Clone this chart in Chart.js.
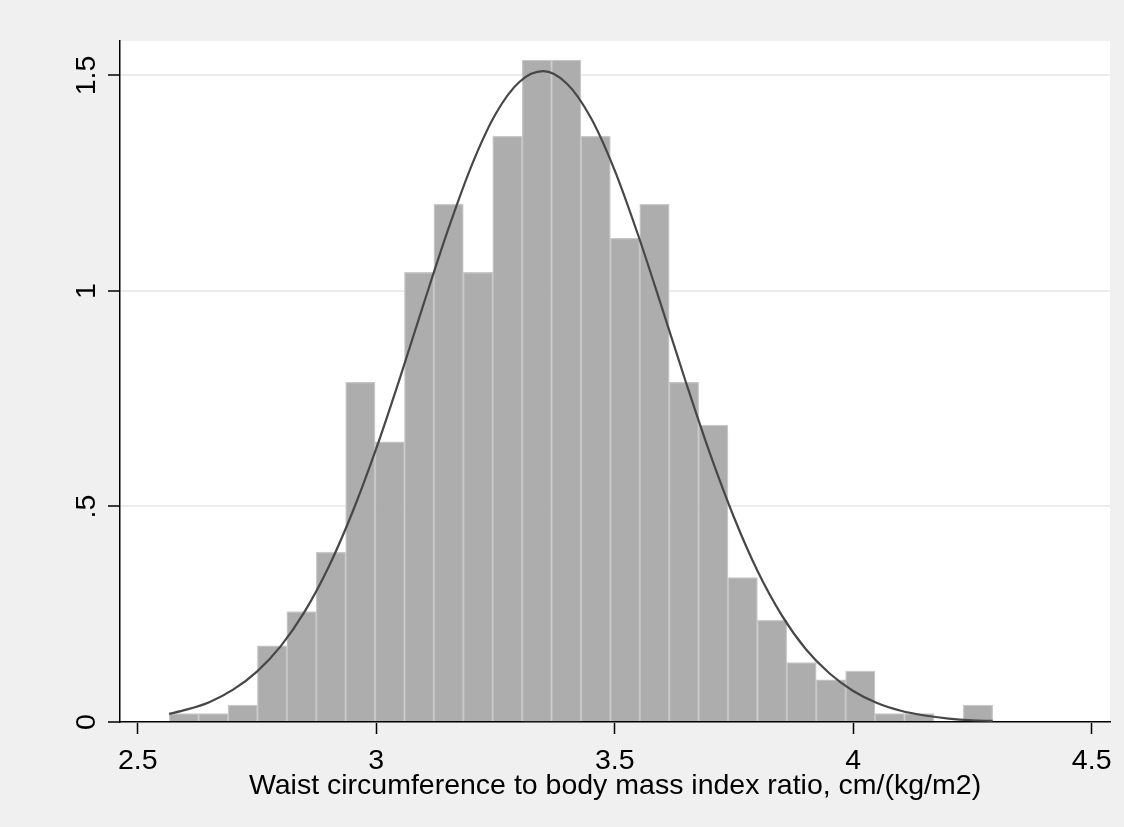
<!DOCTYPE html>
<html>
<head>
<meta charset="utf-8">
<script src="https://cdn.jsdelivr.net/npm/chart.js@4"></script>
<style>
  html, body { margin: 0; padding: 0; background: #f0f0f0; }
  canvas { display: block; }
</style>
</head>
<body>
<canvas id="hist" width="1124" height="827"></canvas>
<script>
// Bin centres of the histogram (bin width about 0.0617)
const binCenters = [
  2.5968, 2.6585, 2.7202, 2.7818, 2.8435, 2.9051, 2.9668, 3.0285, 3.0901, 3.1518,
  3.2134, 3.2751, 3.3368, 3.3984, 3.4601, 3.5218, 3.5834, 3.6451, 3.7067, 3.7684,
  3.8301, 3.8917, 3.9534, 4.0150, 4.0767, 4.1384, 4.2000, 4.2617,
];

// Density of each bin
const binDensity = [
  0.0197, 0.0197, 0.0394, 0.177, 0.256, 0.394, 0.788, 0.650, 1.043, 1.201,
  1.043, 1.359, 1.536, 1.536, 1.359, 1.122, 1.201, 0.788, 0.689, 0.335,
  0.236, 0.138, 0.098, 0.118, 0.0197, 0.0197, 0, 0.0394,
];

// Normal density overlay
const curveX = [
  2.566, 2.60, 2.65, 2.70, 2.75, 2.80, 2.85, 2.90, 2.95, 3.00,
  3.05, 3.10, 3.15, 3.20, 3.25, 3.30, 3.35, 3.40, 3.45, 3.50,
  3.55, 3.60, 3.65, 3.70, 3.75, 3.80, 3.85, 3.90, 3.95, 4.00,
  4.05, 4.10, 4.15, 4.20, 4.25, 4.2925,
];
const curveY = [
  0.019, 0.028, 0.046, 0.075, 0.117, 0.176, 0.256, 0.359, 0.486, 0.634,
  0.799, 0.972, 1.140, 1.291, 1.410, 1.485, 1.510, 1.481, 1.402, 1.280,
  1.127, 0.958, 0.786, 0.622, 0.475, 0.349, 0.248, 0.170, 0.113, 0.072,
  0.044, 0.026, 0.015, 0.008, 0.004, 0.0025,
];

// Axis ticks
const xTicks = [2.5, 3, 3.5, 4, 4.5];
const yTicks = [0, 0.5, 1, 1.5];
const yTickLabels = ["0", ".5", "1", "1.5"];

const xTitle = "Waist circumference to body mass index ratio, cm/(kg/m2)";

const fontFamily = "'Liberation Sans', Arial, sans-serif";

// Grey page with a white plot region
const backgrounds = {
  id: "backgrounds",
  beforeDraw(chart) {
    const { ctx, chartArea: a } = chart;
    ctx.save();
    ctx.fillStyle = "#f0f0f0";
    ctx.fillRect(0, 0, chart.width, chart.height);
    ctx.fillStyle = "#ffffff";
    ctx.fillRect(a.left, a.top, a.right - a.left, a.bottom - a.top);
    ctx.restore();
  },
};

new Chart(document.getElementById("hist"), {
  type: "bar",
  plugins: [backgrounds],
  data: {
    datasets: [
      {
        type: "line",
        data: curveX.map((x, i) => ({ x: x, y: curveY[i] })),
        borderColor: "#474747",
        borderWidth: 2.2,
        pointRadius: 0,
        cubicInterpolationMode: "monotone",
        fill: false,
        order: 0,
      },
      {
        type: "bar",
        data: binCenters.map((x, i) => ({ x: x, y: binDensity[i] })),
        backgroundColor: "#adadad",
        borderColor: "#c8c8c8",
        borderWidth: 1.3,
        barPercentage: 1,
        categoryPercentage: 1,
        order: 1,
      },
    ],
  },
  options: {
    responsive: false,
    animation: false,
    layout: { padding: { top: 41, right: 14, left: 0, bottom: 0 } },
    plugins: {
      legend: { display: false },
      tooltip: { enabled: false },
    },
    scales: {
      x: {
        type: "linear",
        offset: false,
        min: 2.4629,
        max: 4.5384,
        afterFit: (s) => { s.height = 105; },
        afterBuildTicks: (s) => { s.ticks = xTicks.map((v) => ({ value: v })); },
        border: { color: "#000000", width: 1.5 },
        grid: {
          offset: false,
          drawOnChartArea: false,
          drawTicks: true,
          tickLength: 12,
          tickColor: "#000000",
          tickWidth: 1.5,
        },
        ticks: {
          color: "#000000",
          padding: 10,
          maxRotation: 0,
          font: { family: fontFamily, size: 28.5 },
          callback: (v) => String(v),
        },
        title: {
          display: true,
          text: xTitle,
          color: "#000000",
          font: { family: fontFamily, size: 28.5, lineHeight: 1.2 },
          padding: { top: 0, bottom: 24 },
        },
      },
      y: {
        min: 0,
        max: 1.58,
        afterFit: (s) => { s.width = 120; },
        afterBuildTicks: (s) => { s.ticks = yTicks.map((v) => ({ value: v })); },
        border: { color: "#000000", width: 1.5 },
        grid: {
          color: "#ececec",
          lineWidth: 2,
          drawTicks: true,
          tickLength: 12,
          tickColor: "#000000",
          tickWidth: 1.5,
        },
        ticks: {
          color: "#000000",
          padding: 1.5,
          minRotation: 90,
          maxRotation: 90,
          crossAlign: "center",
          font: { family: fontFamily, size: 28.5 },
          callback: (v) => yTickLabels[yTicks.indexOf(v)],
        },
      },
    },
  },
});
</script>
</body>
</html>
